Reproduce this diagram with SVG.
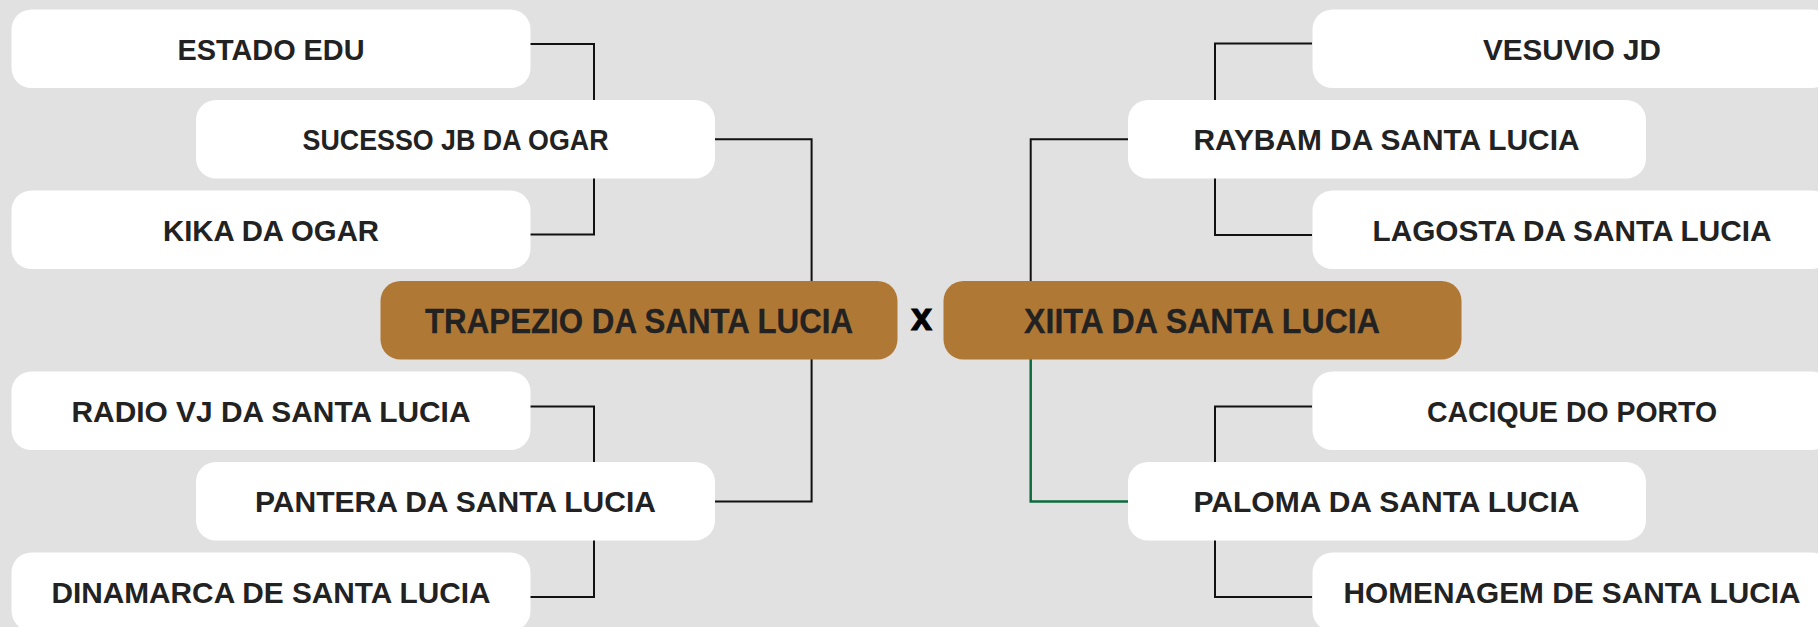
<svg xmlns="http://www.w3.org/2000/svg" width="1818" height="627" viewBox="0 0 1818 627">
<style>
.w{fill:#ffffff}
.g{fill:#b07835}
.t{font-family:"Liberation Sans","DejaVu Sans",sans-serif;font-weight:bold;font-size:30px;fill:#222222;text-anchor:middle}
.tg{font-family:"Liberation Sans","DejaVu Sans",sans-serif;font-weight:bold;font-size:34.5px;fill:#222222;stroke:#222222;stroke-width:0.3;text-anchor:middle}
.c{fill:none;stroke:#111111;stroke-width:2}
.cg{fill:none;stroke:#0d6b3e;stroke-width:2.5}
</style>
<rect width="1818" height="627" fill="#e1e1e1"/>
<g id="connectors">
<path class="c" d="M530,44 H594 V234.5 H530"/>
<path class="c" d="M714,139.3 H811.6 V501.5 H714"/>
<path class="c" d="M530,406.5 H594 V597 H530"/>
<path class="c" d="M1312,43.5 H1215 V235 H1312"/>
<path class="c" d="M1128,139.3 H1030.7 V282"/>
<path class="cg" d="M1030.7,359 V501.5 H1128"/>
<path class="c" d="M1312,406.5 H1215 V597 H1312"/>
</g>
<g id="estado-edu"><rect class="w" x="11.5" y="9.5" width="519" height="78.5" rx="20"/><text class="t" x="271" y="59.8" textLength="187" lengthAdjust="spacingAndGlyphs">ESTADO EDU</text></g>
<g id="sucesso-jb"><rect class="w" x="196" y="100" width="519" height="78.5" rx="20"/><text class="t" x="455.5" y="150.3" textLength="306" lengthAdjust="spacingAndGlyphs">SUCESSO JB DA OGAR</text></g>
<g id="kika"><rect class="w" x="11.5" y="190.5" width="519" height="78.5" rx="20"/><text class="t" x="271" y="240.8" textLength="216" lengthAdjust="spacingAndGlyphs">KIKA DA OGAR</text></g>
<g id="trapezio"><rect class="g" x="380.5" y="281" width="517" height="78.5" rx="20"/><text class="tg" x="639" y="332.8" textLength="428" lengthAdjust="spacingAndGlyphs">TRAPEZIO DA SANTA LUCIA</text></g>
<g id="versus"><text x="921.5" y="329.5" font-family="Liberation Sans,sans-serif" font-weight="bold" font-size="38" fill="#000000" stroke="#000000" stroke-width="1" text-anchor="middle">x</text></g>
<g id="xiita"><rect class="g" x="943.5" y="281" width="518" height="78.5" rx="20"/><text class="tg" x="1202" y="332.8" textLength="356" lengthAdjust="spacingAndGlyphs">XIITA DA SANTA LUCIA</text></g>
<g id="radio-vj"><rect class="w" x="11.5" y="371.5" width="519" height="78.5" rx="20"/><text class="t" x="271" y="421.8" textLength="399" lengthAdjust="spacingAndGlyphs">RADIO VJ DA SANTA LUCIA</text></g>
<g id="pantera"><rect class="w" x="196" y="462" width="519" height="78.5" rx="20"/><text class="t" x="455.5" y="512.3" textLength="401" lengthAdjust="spacingAndGlyphs">PANTERA DA SANTA LUCIA</text></g>
<g id="dinamarca"><rect class="w" x="11.5" y="552.5" width="519" height="78.5" rx="20"/><text class="t" x="271" y="602.8" textLength="439" lengthAdjust="spacingAndGlyphs">DINAMARCA DE SANTA LUCIA</text></g>
<g id="vesuvio"><rect class="w" x="1312.5" y="9.5" width="519" height="78.5" rx="20"/><text class="t" x="1572" y="59.8" textLength="178" lengthAdjust="spacingAndGlyphs">VESUVIO JD</text></g>
<g id="raybam"><rect class="w" x="1128" y="100" width="518" height="78.5" rx="20"/><text class="t" x="1386.5" y="150.3" textLength="386" lengthAdjust="spacingAndGlyphs">RAYBAM DA SANTA LUCIA</text></g>
<g id="lagosta"><rect class="w" x="1312.5" y="190.5" width="519" height="78.5" rx="20"/><text class="t" x="1572" y="240.8" textLength="399" lengthAdjust="spacingAndGlyphs">LAGOSTA DA SANTA LUCIA</text></g>
<g id="cacique"><rect class="w" x="1312.5" y="371.5" width="519" height="78.5" rx="20"/><text class="t" x="1572" y="421.8" textLength="290" lengthAdjust="spacingAndGlyphs">CACIQUE DO PORTO</text></g>
<g id="paloma"><rect class="w" x="1128" y="462" width="518" height="78.5" rx="20"/><text class="t" x="1386.5" y="512.3" textLength="386" lengthAdjust="spacingAndGlyphs">PALOMA DA SANTA LUCIA</text></g>
<g id="homenagem"><rect class="w" x="1312.5" y="552.5" width="519" height="78.5" rx="20"/><text class="t" x="1572" y="602.8" textLength="457" lengthAdjust="spacingAndGlyphs">HOMENAGEM DE SANTA LUCIA</text></g>
</svg>
